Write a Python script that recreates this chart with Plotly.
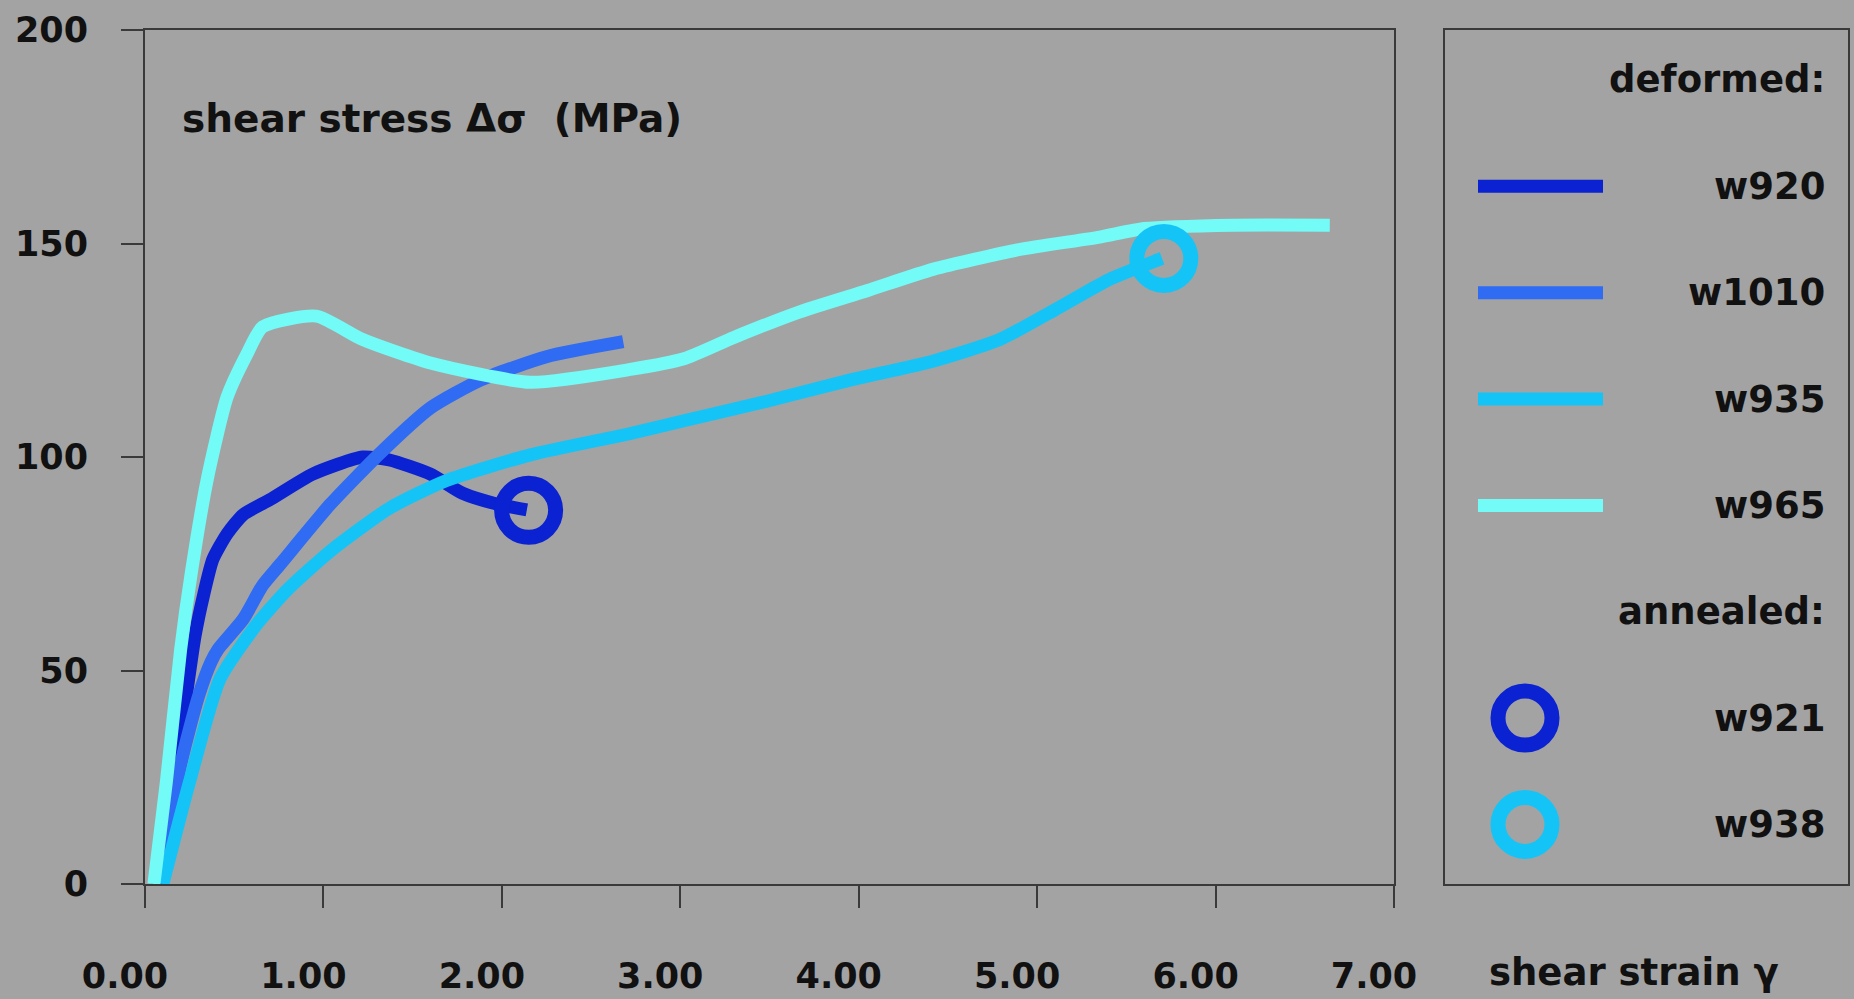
import plotly.graph_objects as go

# ---------------- data ----------------
x_ticks = [0, 1, 2, 3, 4, 5, 6, 7]
x_ticklabels = ["0.00", "1.00", "2.00", "3.00", "4.00", "5.00", "6.00", "7.00"]
y_ticks = [0, 50, 100, 150, 200]
y_ticklabels = ["0", "50", "100", "150", "200"]

strain_w920 = [0.07, 0.12, 0.20, 0.28, 0.33, 0.38, 0.46, 0.55, 0.70, 0.94, 1.22, 1.37, 1.60, 1.78, 1.97, 2.14]
stress_w920 = [0, 15, 35, 58, 68, 76, 82, 86.5, 90, 96, 100, 99.3, 96, 91.5, 89, 87.6]

strain_w1010 = [0.08, 0.20, 0.30, 0.37, 0.41, 0.55, 0.66, 0.76, 1.04, 1.32, 1.60, 1.88, 2.25, 2.68]
stress_w1010 = [0, 28, 44, 52, 55, 62, 70, 75, 89, 101, 111.5, 118, 123.5, 127]

strain_w935 = [0.10, 0.25, 0.42, 0.63, 0.80, 1.04, 1.37, 1.69, 2.16, 2.72, 3.02, 3.48, 3.95, 4.42, 4.79, 5.10, 5.40, 5.70]
stress_w935 = [0, 24, 48, 61, 69, 78, 88, 94.5, 100.5, 105.5, 108.5, 113, 118, 122.5, 127.5, 134.5, 141.5, 146.5]

strain_w965 = [0.05, 0.12, 0.20, 0.26, 0.35, 0.46, 0.57, 0.66, 0.96, 1.22, 1.60, 2.16, 2.72, 3.02, 3.30,
               3.67, 4.05, 4.42, 4.89, 5.35, 5.60, 6.10, 6.64]
stress_w965 = [0, 24, 55, 73, 95, 114, 124, 130.5, 133, 127.5, 122, 117.5, 120.5, 123, 128,
               134, 139, 144, 148.5, 151.5, 153.5, 154.3, 154.3]

annealed_names = ["w921", "w938"]
annealed_strain = [2.15, 5.71]
annealed_stress = [87.5, 146.5]

deformed_names = ["w920", "w1010", "w935", "w965"]
legend_rows = ["deformed:", "w920", "w1010", "w935", "w965", "annealed:", "w921", "w938"]

# ---------------- styling ----------------
BG = "#a3a3a3"
AX = "#3a3a3a"
FONT = "DejaVu Sans"
colors = {
    "w920": "#0b22d2",
    "w1010": "#2f6bf3",
    "w935": "#14c4f7",
    "w965": "#72fbf7",
    "w921": "#0b22d2",
    "w938": "#14c4f7",
}
LINE_W = 13
CIRC_SIZE = 54
CIRC_LW = 15

series = {
    "w920": (strain_w920, stress_w920),
    "w1010": (strain_w1010, stress_w1010),
    "w935": (strain_w935, stress_w935),
    "w965": (strain_w965, stress_w965),
}

fig = go.Figure()

for name in deformed_names:
    xs, ys = series[name]
    fig.add_trace(go.Scatter(
        x=xs, y=ys, mode="lines", name=name, showlegend=False,
        line=dict(color=colors[name], width=LINE_W, shape="spline", smoothing=0.6),
        xaxis="x", yaxis="y", hoverinfo="skip"))

for name, xv, yv in zip(annealed_names, annealed_strain, annealed_stress):
    fig.add_trace(go.Scatter(
        x=[xv], y=[yv], mode="markers", name=name, showlegend=False,
        marker=dict(symbol="circle-open", size=CIRC_SIZE, color=colors[name],
                    line=dict(width=CIRC_LW, color=colors[name])),
        xaxis="x", yaxis="y", hoverinfo="skip"))

# ---------------- page geometry ----------------
W, H = 1854, 999
PLOT_L, PLOT_R, PLOT_T, PLOT_B = 145, 1394, 30, 884      # page pixels of main plot
BOX_L, BOX_R = 1445, 1848                                 # page pixels of legend box
ML, MT = PLOT_L, PLOT_T
MR = W - BOX_R
MB = H - PLOT_B
PW = W - ML - MR
PH = H - MT - MB
main_right = (PLOT_R - PLOT_L) / PW
leg_left = (BOX_L - PLOT_L) / PW


def px_x(page_x):
    return (page_x - PLOT_L) / PW


def px_y(page_y):
    return (PLOT_B - page_y) / PH


# ---------------- legend panel (own axes, pixel-like units) ----------------
LEG_W = BOX_R - BOX_L
leg_line_x = [33, 158]
leg_circle_x = 80
leg_text_x = 382
for i, label in enumerate(legend_rows):
    if label in deformed_names:
        fig.add_trace(go.Scatter(
            x=leg_line_x, y=[i, i], mode="lines", showlegend=False, hoverinfo="skip",
            line=dict(color=colors[label], width=LINE_W), xaxis="x2", yaxis="y2"))
    elif label in annealed_names:
        fig.add_trace(go.Scatter(
            x=[leg_circle_x], y=[i], mode="markers", showlegend=False, hoverinfo="skip",
            marker=dict(symbol="circle-open", size=CIRC_SIZE, color=colors[label],
                        line=dict(width=CIRC_LW, color=colors[label])),
            xaxis="x2", yaxis="y2"))
    fig.add_annotation(x=leg_text_x, y=i, xref="x2", yref="y2", text=label,
                       showarrow=False, xanchor="right", yanchor="middle",
                       font=dict(family=FONT, size=37, color="#111111", weight="bold"))

tickfont = dict(family=FONT, size=35, color="#111111", weight="bold")

fig.update_layout(
    width=W, height=H, autosize=False,
    margin=dict(l=ML, r=MR, t=MT, b=MB, pad=0, autoexpand=False),
    paper_bgcolor=BG, plot_bgcolor=BG,
    showlegend=False,
    xaxis=dict(domain=[0, main_right], range=[0, 7], tickmode="array",
               tickvals=x_ticks, ticktext=x_ticklabels, ticks="outside", ticklen=22,
               tickwidth=2, tickcolor=AX, showline=True, linecolor=AX, linewidth=2,
               mirror=True, showgrid=False, zeroline=False, tickfont=tickfont,
               ticklabelstandoff=38, ticklabelshift=-20, fixedrange=True, automargin=False),
    yaxis=dict(domain=[0, 1], range=[0, 200], tickmode="array",
               tickvals=y_ticks, ticktext=y_ticklabels, ticks="outside", ticklen=22,
               tickwidth=2, tickcolor=AX, showline=True, linecolor=AX, linewidth=2,
               mirror=True, showgrid=False, zeroline=False, tickfont=tickfont,
               ticklabelstandoff=26, ticklabelshift=0, fixedrange=True, automargin=False),
    xaxis2=dict(domain=[leg_left, 1], range=[0, LEG_W], anchor="y2",
                showline=True, linecolor=AX, linewidth=2, mirror=True,
                showticklabels=False, ticks="", showgrid=False, zeroline=False,
                fixedrange=True, automargin=False),
    yaxis2=dict(domain=[0, 1], range=[7.56, -0.47], anchor="x2",
                showline=True, linecolor=AX, linewidth=2, mirror=True,
                showticklabels=False, ticks="", showgrid=False, zeroline=False,
                fixedrange=True, automargin=False),
)

fig.add_annotation(x=px_x(180), y=px_y(118), xref="paper", yref="paper",
                   text="shear stress \u0394\u03c3\u00a0\u00a0(MPa)", showarrow=False,
                   xanchor="left", yanchor="middle",
                   font=dict(family=FONT, size=39, color="#111111", weight="bold"))
fig.add_annotation(x=px_x(1487), y=px_y(972), xref="paper", yref="paper",
                   text="shear strain \u03b3", showarrow=False,
                   xanchor="left", yanchor="middle",
                   font=dict(family=FONT, size=37, color="#111111", weight="bold"))

page_js = (
    "document.documentElement.style.margin='0';"
    "document.documentElement.style.padding='0';"
    "document.documentElement.style.overflow='hidden';"
    "document.documentElement.style.background='" + BG + "';"
    "document.body.style.margin='0';"
    "document.body.style.padding='0';"
    "document.body.style.overflow='hidden';"
    "document.body.style.background='" + BG + "';"
)

fig.write_html("out.html", post_script=page_js, config={"displayModeBar": False})
